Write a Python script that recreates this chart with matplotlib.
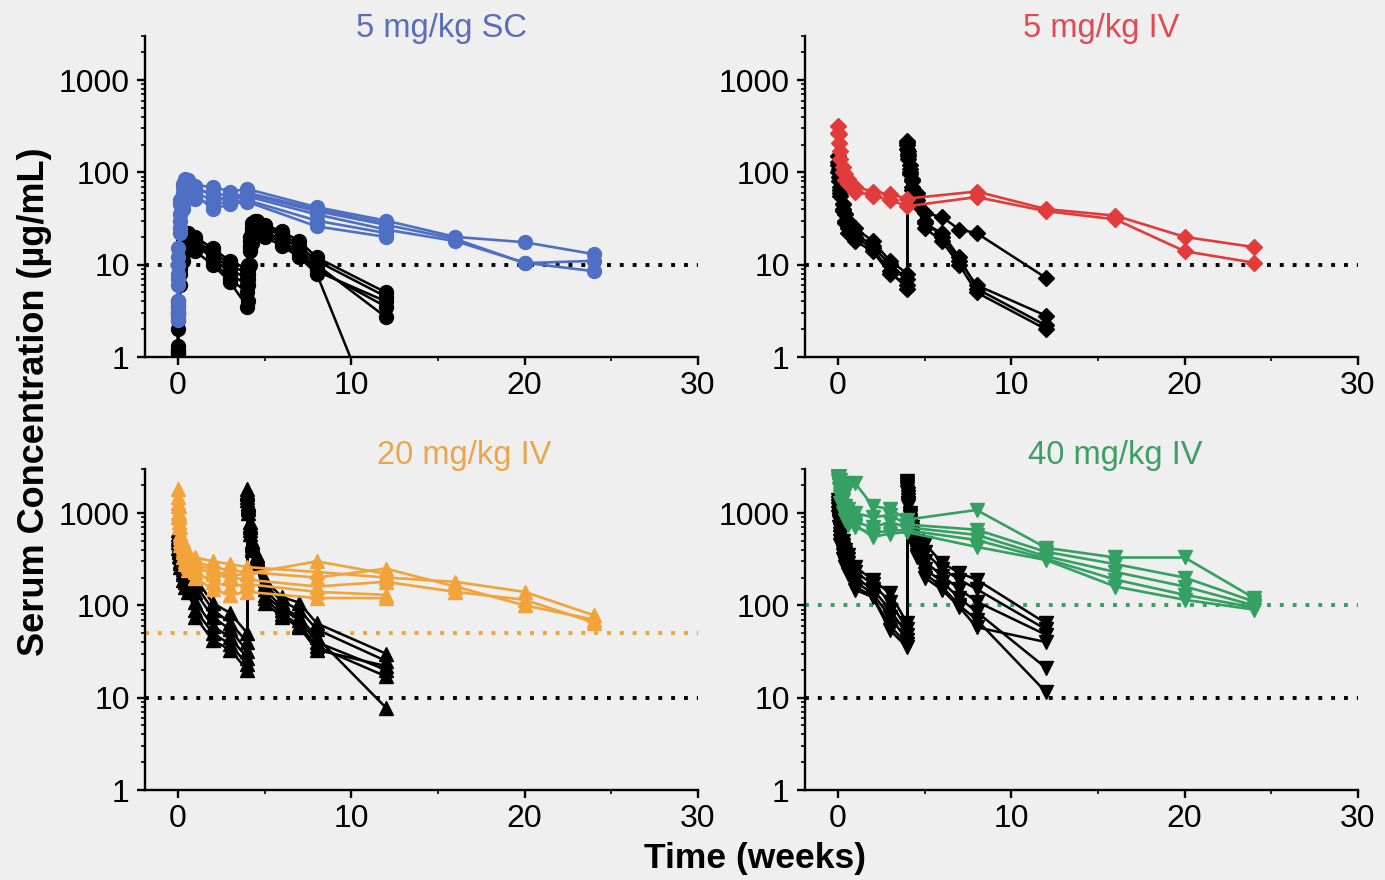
import numpy as np
import matplotlib
matplotlib.use("Agg")
import matplotlib.pyplot as plt
from matplotlib.ticker import FixedLocator, LogLocator, NullFormatter

plt.rcParams["font.family"] = ["Liberation Sans", "DejaVu Sans"]

nan = np.nan

# Sampling times (weeks)
T_SC = [0, 0.02, 0.14, 0.29, 0.43, 0.57, 1, 2, 3, 4, 8, 12, 16, 20, 24]
T_IV = [0.01, 0.04, 0.14, 0.29, 0.43, 0.57, 1, 2, 3, 4, 8, 12, 16, 20, 24]
T_SC_REPEAT = [0, 0.02, 0.14, 0.29, 0.43, 0.57, 1, 2, 3, 4,
               4.02, 4.14, 4.29, 4.43, 4.57, 5, 6, 7, 8, 12]
T_IV_REPEAT = [0.01, 0.04, 0.14, 0.29, 0.43, 0.57, 1, 2, 3, 4,
               4.01, 4.04, 4.14, 4.29, 4.57, 5, 6, 7, 8, 12]

# 5 mg/kg SC, single dose (ug/mL)
sc_single = [
    [3.5, 12, 45, 70, 80, 78, 72, 70, 62, 66, 42, 30, 20, 17.5, 13],
    [2.8, 8, 30, 55, 65, 70, 65, 60, 55, 58, 38, 27, 19, 10.4, 11],
    [4.0, 15, 50, 75, 85, 82, 70, 55, 50, 55, 35, 24, 18, 10.5, 8.5],
    [3.0, 6, 22, 40, 50, 55, 52, 45, 48, 50, 30, 22, nan, nan, nan],
    [3.2, 10, 35, 60, 70, 68, 60, 50, 52, 60, 40, 28, nan, nan, nan],
    [2.5, 7, 25, 45, 55, 60, 58, 40, 45, 48, 26, 20, nan, nan, nan],
]
# 5 mg/kg SC, two doses
sc_repeat = [
    [1.2, 3, 10, 16, 19, 20, 18, 14, 10, 8, 9, 18, 25, 28, 28, 25, 22, 16, 11, 4.5],
    [1.1, 2.5, 8, 14, 16, 17, 16, 12, 8, 6, 7, 15, 22, 25, 26, 24, 18, 14, 9, 3.5],
    [1.3, 4, 12, 18, 22, 22, 20, 15, 11, 9, 10, 20, 28, 30, 30, 27, 23, 18, 12, 5],
    [1.0, 2, 6, 11, 14, 15, 14, 10, 6.5, 3.5, 4, 10, 17, 21, 22, 20, 16, 12, 8, 0.11],
    [1.1, 3, 9, 15, 17, 18, 17, 13, 9, 7, 8, 16, 24, 26, 27, 26, 20, 15, 10, 2.7],
    [1.2, 3.5, 11, 17, 20, 21, 19, 11, 7, 5, 6, 14, 21, 24, 25, 22, 17, 13, 8.5, 4],
]

# 5 mg/kg IV
iv5_single = [
    [320, 260, 170, 115, 95, 85, 70, 62, 58, 52, 62, 40, 34, 20, 15.5],
    [270, 210, 140, 100, 82, 75, 62, 56, 50, 43, 54, 38, 31, 14, 10.5],
]
iv5_repeat = [
    [150, 110, 70, 45, 35, 30, 22, 16, 10, 7, 220, 170, 120, 85, 60, 30, 20, 11, 6, 2.8],
    [120, 90, 60, 40, 30, 25, 18, 14, 8, 6, 200, 150, 100, 70, 50, 28, 22, 12, 5.5, 2.2],
    [100, 80, 55, 38, 28, 22, 20, 15, 8.5, 5.5, 180, 140, 95, 65, 45, 25, 18, 10, 5, 2.0],
    [130, 100, 65, 45, 35, 28, 25, 18, 11, 8, 210, 160, 110, 80, 55, 36, 33, 24, 22, 7.2],
]

# 20 mg/kg IV
iv20_single = [
    [1800, 1200, 700, 500, 420, 380, 330, 300, 280, 260, 230, 200, 180, 140, 78],
    [1500, 1000, 600, 450, 380, 340, 300, 260, 240, 230, 200, 250, 160, 100, 70],
    [1200, 900, 550, 400, 330, 300, 260, 220, 200, 190, 160, 180, 140, 115, 65],
    [1000, 800, 500, 380, 300, 270, 230, 180, 160, 170, 140, 130, nan, nan, nan],
    [900, 700, 450, 330, 280, 240, 200, 150, 130, 140, 120, 120, nan, nan, nan],
    [1300, 950, 600, 430, 350, 320, 280, 240, 210, 220, 300, 220, nan, nan, nan],
]
iv20_repeat = [
    [650, 500, 380, 280, 240, 220, 200, 106, 83, 50, 1800, 1300, 800, 500, 350, 190, 123, 107, 64, 30],
    [550, 430, 330, 250, 210, 190, 170, 90, 65, 40, 1600, 1200, 700, 450, 320, 170, 110, 90, 55, 25],
    [480, 380, 290, 220, 180, 160, 140, 75, 55, 32, 1500, 1100, 650, 420, 290, 150, 95, 75, 45, 7.8],
    [600, 460, 350, 260, 220, 200, 110, 60, 45, 27, 1700, 1250, 750, 480, 330, 130, 90, 70, 40, 20],
    [420, 340, 260, 190, 160, 140, 90, 50, 38, 23, 1400, 1000, 600, 400, 270, 120, 80, 62, 36, 17],
    [520, 400, 300, 230, 190, 170, 75, 42, 33, 20, 1650, 1150, 700, 460, 310, 107, 75, 58, 33, 22],
]

# 40 mg/kg IV
iv40_single = [
    [2800, 2500, 2300, 2100, 2000, 1900, 2100, 1200, 1100, 850, 1080, 420, 330, 330, 120],
    [2600, 2200, 1800, 1400, 1200, 1100, 1000, 900, 950, 750, 660, 380, 280, 200, 110],
    [2400, 2000, 1500, 1200, 1000, 900, 800, 700, 800, 700, 580, 340, 230, 160, 100],
    [2200, 1800, 1300, 1000, 850, 750, 700, 600, 650, 650, 510, 320, 190, 130, 95],
    [2500, 2100, 1600, 1200, 950, 800, 750, 550, 600, 620, 430, 310, 160, 115, 90],
]
iv40_repeat = [
    [1400, 1100, 700, 500, 400, 350, 260, 190, 135, 64, 2200, 1600, 1000, 700, 500, 470, 290, 225, 190, 64],
    [1300, 1000, 650, 450, 370, 320, 230, 170, 110, 55, 2100, 1500, 950, 650, 450, 380, 250, 190, 150, 55],
    [1200, 900, 600, 420, 340, 290, 200, 150, 90, 48, 2000, 1400, 900, 600, 420, 300, 210, 150, 110, 48],
    [1100, 850, 550, 380, 310, 260, 180, 135, 75, 42, 1900, 1300, 850, 560, 380, 250, 180, 120, 85, 21],
    [1000, 800, 500, 350, 280, 240, 160, 125, 60, 38, 1800, 1250, 800, 520, 350, 220, 160, 100, 70, 11.5],
    [900, 700, 450, 320, 260, 220, 147, 123, 54, 35, 1700, 1200, 750, 500, 330, 200, 148, 96, 58, 40],
]

titles = ["5 mg/kg SC", "5 mg/kg IV", "20 mg/kg IV", "40 mg/kg IV"]
colors = ["#4f6fc4", "#e23b3b", "#f2a33a", "#34a062"]
title_colors = ["#5a6db8", "#e04a55", "#eaa64c", "#3f9d66"]
markers = ["o", "D", "^", "v"]
marker_sizes = [10, 8.5, 10, 10]
threshold_colored = [None, None, 50, 100]

panels = [
    (T_SC, sc_single, T_SC_REPEAT, sc_repeat),
    (T_IV, iv5_single, T_IV_REPEAT, iv5_repeat),
    (T_IV, iv20_single, T_IV_REPEAT, iv20_repeat),
    (T_IV, iv40_single, T_IV_REPEAT, iv40_repeat),
]

W, H = 1385, 880
fig = plt.figure(figsize=(W / 100, H / 100), dpi=100)
bg = "#efefef"
fig.patch.set_facecolor(bg)

ax_w = (698 - 145) / W
ax_h = (357 - 36) / H
lefts = [145 / W, 805 / W]
bottoms = [1 - 357 / H, 1 - 790 / H]
title_xy = [(442, 28), (1101, 28), (464, 455), (1115, 455)]

for i, (t_single, single, t_rep, rep) in enumerate(panels):
    row, col = divmod(i, 2)
    ax = fig.add_axes([lefts[col], bottoms[row], ax_w, ax_h])
    ax.set_facecolor(bg)
    ax.set_yscale("log")
    ax.set_xlim(-1.9, 30)
    ax.set_ylim(1, 3000)

    dots = (0, (1, 2.3))
    ax.axhline(10, color="black", lw=2.8, linestyle=dots, zorder=1)
    if threshold_colored[i] is not None:
        ax.axhline(threshold_colored[i], color=colors[i], lw=2.8,
                   linestyle=dots, zorder=1)

    for y in rep:
        ax.plot(t_rep, y, color="black", lw=1.8, marker=markers[i],
                ms=marker_sizes[i], mec="black", mfc="black", zorder=2,
                clip_on=True)
    for y in single:
        ax.plot(t_single, y, color=colors[i], lw=1.9, marker=markers[i],
                ms=marker_sizes[i], mec=colors[i], mfc=colors[i], zorder=3,
                clip_on=True)

    for side in ("top", "right"):
        ax.spines[side].set_visible(False)
    for side in ("left", "bottom"):
        ax.spines[side].set_linewidth(1.7)
        ax.spines[side].set_color("black")

    ax.xaxis.set_major_locator(FixedLocator([0, 10, 20, 30]))
    ax.xaxis.set_minor_locator(FixedLocator([5, 15, 25]))
    ax.yaxis.set_major_locator(FixedLocator([1, 10, 100, 1000]))
    ax.yaxis.set_minor_locator(LogLocator(base=10, subs=np.arange(2, 10)))
    ax.yaxis.set_minor_formatter(NullFormatter())
    ax.set_yticklabels(["1", "10", "100", "1000"])
    ax.tick_params(axis="both", which="major", length=6, width=1.7,
                   labelsize=23, direction="out", color="black")
    ax.tick_params(axis="both", which="minor", length=3, width=1.2,
                   direction="out", color="black")
    ax.tick_params(axis="y", which="major", pad=5)
    ax.tick_params(axis="x", which="major", pad=4)

    tx, ty = title_xy[i]
    fig.text(tx / W, 1 - ty / H, titles[i], color=title_colors[i],
             fontsize=23.5, ha="center", va="center")

fig.text(35 / W, 1 - 402 / H, "Serum Concentration (\u00b5g/mL)",
         rotation=90, fontsize=26, fontweight="bold", ha="center", va="center")
fig.text(755 / W, 1 - 858 / H, "Time (weeks)", fontsize=25.5,
         fontweight="bold", ha="center", va="center")

fig.savefig("out.png", dpi=100, facecolor=bg)
